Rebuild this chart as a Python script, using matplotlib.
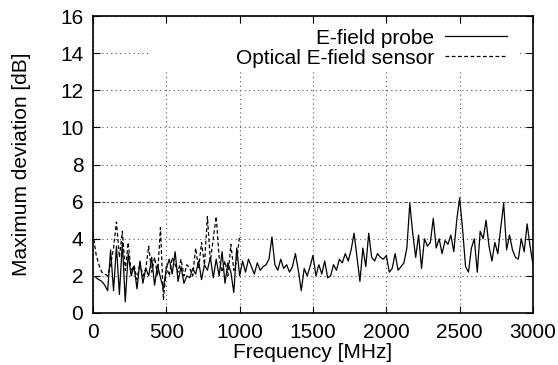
import numpy as np
import matplotlib
matplotlib.use('Agg')
import matplotlib.pyplot as plt
from matplotlib.patches import Rectangle

plt.rcParams['font.family'] = ['Liberation Sans', 'DejaVu Sans']

# E-field probe (solid), 20..3000 MHz step 20
probe_freq = np.arange(20, 3001, 20)
probe_dev = [
    1.9,
    1.8, 1.7, 1.5, 1.2, 3.4, 1.2, 3.6, 1.0, 3.8, 0.6,
    3.2, 2.0, 2.5, 1.3, 2.8, 1.6, 2.4, 2.0, 3.0, 1.5,
    2.6, 1.9, 1.3, 2.4, 2.9, 2.1, 3.3, 1.7, 2.5, 1.6,
    2.0, 1.9, 2.4, 2.1, 2.8, 1.8, 2.6, 2.3, 3.0, 1.9,
    2.9, 2.0, 3.3, 1.6, 2.7, 2.2, 1.1, 3.5, 2.0,
    2.8, 2.2, 2.9, 2.5, 2.1, 2.7, 2.3, 2.5, 2.6, 2.9,
    4.1, 2.6, 2.3, 2.9, 2.4, 2.6, 2.2, 2.5, 3.2, 2.3,
    1.2, 2.4, 2.0, 2.5, 3.1,
    2.0, 2.6, 2.1, 2.8, 1.9, 2.0, 2.6, 2.3, 2.9, 2.7,
    3.2, 2.8, 3.4, 4.3, 3.0, 1.7, 3.5, 2.5, 4.3, 3.0,
    2.8, 3.2, 3.0, 2.9, 3.1, 2.2,
    2.4, 3.2, 2.3, 2.5, 2.7, 3.5, 5.9, 4.3, 3.0,
    4.2, 2.4, 4.0, 3.6, 3.8, 5.1, 3.5, 4.0, 3.2, 3.9,
    3.7, 4.2, 3.3, 5.0, 6.2, 4.5, 2.5,
    2.2, 3.5, 4.0, 2.2, 4.4, 4.0, 5.0, 3.6, 2.8, 3.8,
    3.2, 4.6, 5.9, 3.4, 4.2, 3.4, 3.0, 2.9, 4.0, 3.3,
    4.8, 3.6, 2.6,
]

# Optical E-field sensor (dashed), 0..1000 MHz step 20
optical_freq = np.arange(0, 1001, 20)
optical_dev = [
    4.3, 3.2, 2.6, 2.2, 2.1, 2.0, 2.6, 3.5, 4.9, 3.0,
    4.4, 2.3, 3.8, 2.2, 2.6, 1.8, 2.7, 2.0, 2.4, 3.6,
    2.2, 3.0, 2.0, 4.6, 0.7, 2.5, 2.0, 3.0, 2.6, 2.2,
    2.9, 2.0, 2.6, 2.4, 2.0, 3.5, 2.4, 3.8, 2.6, 5.2,
    2.8, 4.0, 5.2, 3.0, 2.2, 2.8, 2.0, 3.7, 2.3, 2.8,
    4.2,
]

fig = plt.figure(figsize=(5.58, 3.65), dpi=100)
ax = fig.add_axes([93 / 558, 52 / 365, 440 / 558, 297 / 365])

ax.plot(probe_freq, probe_dev, color='black', linewidth=0.9, label='E-field probe')
ax.plot(optical_freq, optical_dev, color='black', linewidth=0.9,
        linestyle=(0, (3, 2)), label='Optical E-field sensor')

ax.grid(True, color='#555555', linestyle=(0, (1, 3)), linewidth=0.8)
ax.axhline(6, color='#555555', linestyle=(0, (3, 2, 1, 2)), linewidth=0.8, zorder=1)

# opaque key box (gnuplot style), hides grid behind legend
ax.add_patch(Rectangle((0.132, 0.818), 0.838, 0.155, transform=ax.transAxes,
                       facecolor='white', edgecolor='none', zorder=1.8))

ax.set_xlim(0, 3000)
ax.set_ylim(0, 16)
ax.set_xticks(range(0, 3001, 500))
ax.set_yticks(range(0, 17, 2))
ax.tick_params(direction='in', top=True, right=True, length=5, labelsize=15)
ax.tick_params(axis='x', pad=7)
ax.tick_params(axis='y', pad=7)
for s in ax.spines.values():
    s.set_linewidth(1.2)

ax.set_xlabel('Frequency [MHz]', fontsize=15)
ax.set_ylabel('Maximum deviation [dB]', fontsize=15)
ax.xaxis.set_label_coords(0.5, -0.10)
ax.yaxis.set_label_coords(-0.141, 0.5)

leg = ax.legend(loc='upper right', bbox_to_anchor=(0.97, 1.0), frameon=False,
                markerfirst=False, fontsize=15, handlelength=3.0,
                handletextpad=0.5, labelspacing=0.05, borderaxespad=0.2)
leg.set_zorder(3)
for t in leg.get_texts():
    t.set_ha('right')

fig.savefig('out.png', dpi=100)
